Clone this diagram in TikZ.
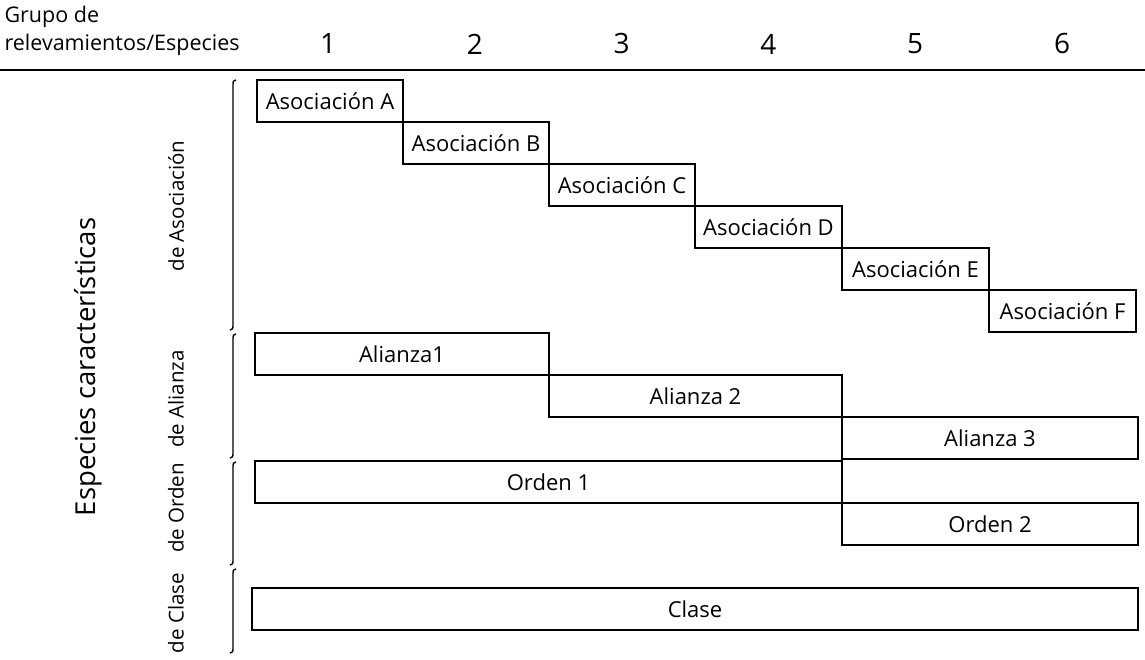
\documentclass[tikz,border=0pt]{standalone}
\usepackage{fontspec}
\setmainfont{Open Sans}
\usetikzlibrary{positioning}

\begin{document}
\begin{tikzpicture}[x=1pt,y=-1pt]
    \tikzstyle{block} = [draw, line width=1.6pt, rectangle, anchor=north west,
        inner sep=0pt, outer sep=0pt, minimum height=42pt,
        font=\fontsize{22}{26}\selectfont]
    \tikzstyle{colnum} = [font=\fontsize{28}{32}\selectfont]
    \tikzstyle{side} = [rotate=90, font=\fontsize{20.5}{26}\selectfont]
    \useasboundingbox (0,0) rectangle (1145,660);

    % header
    \node [anchor=west, align=left, font=\fontsize{21.5}{28}\selectfont] (head) at (1,31)
        {Grupo de\\relevamientos/Especies};
    \foreach \n in {1,...,6}
        \node [colnum] (col\n) at ({328+146.8*(\n-1)},44) {\n};
    \draw [line width=2.6pt] (0,70) -- (1145,70);

    % associations
    \node [block, minimum width=146pt] (asocA) at (257,80) {Asociación A};
    \node [block, minimum width=146pt] (asocB) at (asocA.south east) {Asociación B};
    \node [block, minimum width=146pt] (asocC) at (asocB.south east) {Asociación C};
    \node [block, minimum width=147pt] (asocD) at (asocC.south east) {Asociación D};
    \node [block, minimum width=147pt] (asocE) at (asocD.south east) {Asociación E};
    \node [block, minimum width=147pt] (asocF) at (asocE.south east) {Asociación F};

    % alliances
    \node [block, minimum width=294pt] (ali1) at (255,333) {Alianza1};
    \node [block, minimum width=293pt] (ali2) at (ali1.south east) {Alianza 2};
    \node [block, minimum width=296pt] (ali3) at (ali2.south east) {Alianza 3};

    % orders
    \node [block, minimum width=587pt] (ord1) at (255,461) {Orden 1};
    \node [block, minimum width=296pt] (ord2) at (ord1.south east) {Orden 2};

    % class
    \node [block, minimum width=886pt] (clase) at (252,588) {Clase};

    % brackets
    \foreach \a/\b in {80/330, 334/458, 462/565, 569/653}
        \draw [line width=1.4pt] (236,\a) .. controls (233,\a+1) .. (233,\a+4)
            -- (233,\b-4) .. controls (233,\b-1) .. (230,\b);

    \node [side] (lasoc) at (176,206) {de Asociación};
    \node [side] (lali) at (176,399) {de Alianza};
    \node [side] (lord) at (176,508) {de Orden};
    \node [side] (lcla) at (176,613) {de Clase};
    \node [rotate=90, font=\fontsize{27.5}{32}\selectfont] (esp) at (88,367)
        {Especies características};
\end{tikzpicture}
\end{document}
